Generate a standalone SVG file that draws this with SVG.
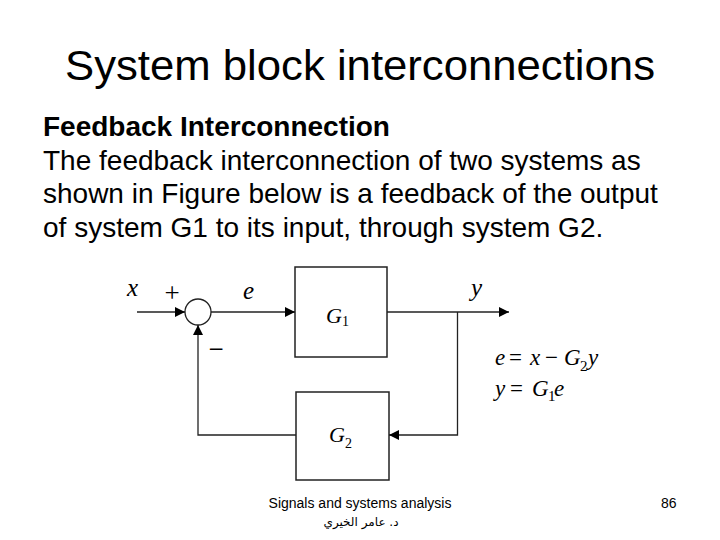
<svg xmlns="http://www.w3.org/2000/svg" width="720" height="540" viewBox="0 0 720 540">
<defs>
<marker id="arr" markerUnits="userSpaceOnUse" markerWidth="11" markerHeight="11" refX="10" refY="5" orient="auto">
<path d="M0,0 L10,5 L0,10 z" fill="#000"/>
</marker>
<style>
.sans{font-family:"Liberation Sans",Arial,sans-serif;fill:#000}
.math{font-family:"Liberation Serif","Times New Roman",serif;fill:#000}
.it{font-style:italic}
.box{fill:none;stroke:#222;stroke-width:1.5}
.wire{fill:none;stroke:#222;stroke-width:1.3}
</style>
</defs>
<rect width="720" height="540" fill="#fff"/>
<text class="sans" x="65" y="80" font-size="42" textLength="590" lengthAdjust="spacingAndGlyphs">System block interconnections</text>
<text class="sans" x="43" y="136" font-size="28" font-weight="bold">Feedback Interconnection</text>
<text class="sans" x="43" y="169.5" font-size="28">The feedback interconnection of two systems as</text>
<text class="sans" x="43" y="203" font-size="28">shown in Figure below is a feedback of the output</text>
<text class="sans" x="43" y="236.5" font-size="28">of system G1 to its input, through system G2.</text>

<g id="sum">
<circle cx="198" cy="312" r="13" class="wire"/>
<text class="math" x="172" y="302" text-anchor="middle" font-size="27">+</text>
<text class="math" x="216" y="358" text-anchor="middle" font-size="27">−</text>
</g>
<g id="G1">
<rect x="295" y="267" width="92" height="90" class="box"/>
<text class="math" x="326" y="323" font-size="22"><tspan class="it">G</tspan><tspan font-size="14" dy="3">1</tspan></text>
</g>
<g id="G2">
<rect x="296" y="392" width="93" height="88" class="box"/>
<text class="math" x="329" y="442" font-size="22"><tspan class="it">G</tspan><tspan font-size="14" dy="6">2</tspan></text>
</g>
<g id="connectors">
<line x1="137" y1="312" x2="185" y2="312" class="wire" marker-end="url(#arr)"/>
<line x1="211" y1="312" x2="295" y2="312" class="wire" marker-end="url(#arr)"/>
<line x1="387" y1="312" x2="509" y2="312" class="wire" marker-end="url(#arr)"/>
<polyline points="457.5,312 457.5,435 389,435" class="wire" marker-end="url(#arr)"/>
<polyline points="296,435 198,435 198,325" class="wire" marker-end="url(#arr)"/>
</g>
<g id="labels">
<text class="math it" x="127" y="296" font-size="25">x</text>
<text class="math it" x="243" y="299" font-size="25">e</text>
<text class="math it" x="471" y="296" font-size="25">y</text>
</g>
<g id="equations">
<text class="math" y="365" font-size="23"><tspan class="it" x="495">e</tspan><tspan x="509">=</tspan><tspan class="it" x="530">x</tspan><tspan x="545">−</tspan><tspan class="it" x="564">G</tspan><tspan font-size="15" x="580" dy="6">2</tspan><tspan class="it" x="588" dy="-6">y</tspan></text>
<text class="math" y="396" font-size="23"><tspan class="it" x="495">y</tspan><tspan x="510">=</tspan><tspan class="it" x="532">G</tspan><tspan font-size="15" x="548" dy="5">1</tspan><tspan class="it" x="554" dy="-5">e</tspan></text>
</g>
<text class="sans" x="360" y="508" font-size="14" text-anchor="middle">Signals and systems analysis</text>
<text x="361" y="526" font-size="12" text-anchor="middle" direction="rtl" font-family="'DejaVu Sans',sans-serif">د. عامر الخيري</text>
<text class="sans" x="661" y="508" font-size="14">86</text>
</svg>
